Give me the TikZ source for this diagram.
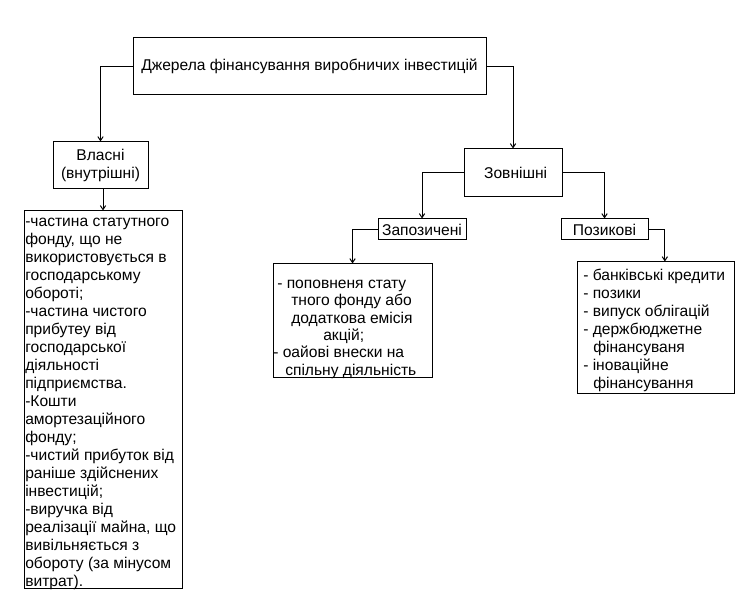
\documentclass[tikz,border=0pt]{standalone}
\usepackage{fontspec}
\setmainfont{Liberation Sans}
\usetikzlibrary{arrows.meta}
\begin{document}
\begin{tikzpicture}[x=0.75pt,y=-0.75pt,
  every node/.style={font=\fontsize{11.7pt}{13.5pt}\selectfont},
  box/.style={draw,line width=0.75pt,inner sep=0pt,align=center},
  txt/.style={inner sep=0pt,align=left,anchor=north west},
  arr/.style={line width=0.75pt,-{Straight Barb[length=3pt,width=4pt]}}]
\useasboundingbox[fill=white] (0,0) rectangle (747,616);
% boxes
\node[box,minimum width=353*0.75pt,minimum height=57*0.75pt] (top) at (309.5,66.5) {Джерела фінансування виробничих інвестицій};
\node[box,minimum width=95*0.75pt,minimum height=47*0.75pt] (vl) at (100.5,165.5) {Власні\\(внутрішні)};
\node[box,minimum width=98*0.75pt,minimum height=48*0.75pt] (zov) at (513,173) {\hspace*{4pt}Зовнішні};
\node[box,minimum width=88*0.75pt,minimum height=21*0.75pt] (zap) at (422,229.5) {Запозичені};
\node[box,minimum width=87*0.75pt,minimum height=21*0.75pt] (poz) at (604.5,229.5) {Позикові};
\node[box,minimum width=158*0.75pt,minimum height=378*0.75pt] (vllist) at (103,400) {};
\node[box,minimum width=159*0.75pt,minimum height=114*0.75pt] (zaplist) at (352.5,321) {};
\node[box,minimum width=157*0.75pt,minimum height=132*0.75pt] (pozlist) at (655.5,328) {};
% texts
\node[txt] (vltext) at (25,218) {-частина статутного\\фонду, що не\\використовується в\\господарському\\обороті;\\-частина чистого\\прибутеу від\\господарської\\діяльності\\підприємства.\\-Кошти\\амортезаційного\\фонду;\\-чистий прибуток від\\раніше здійснених\\інвестицій;\\-виручка від\\реалізації майна, що\\вивільняється з\\обороту (за мінусом\\витрат).};
\node[txt,font=\fontsize{11.7pt}{13pt}\selectfont] (zaptext) at (273,280) {\hspace*{3pt}- поповненя стату\\\hspace*{13.5pt}тного фонду або\\\hspace*{13.5pt}додаткова емісія\\\hspace*{37.5pt}акцій;\\- оайові внески на\\\hspace*{9pt}спільну діяльність};
\node[txt] (poztext) at (583,269) {- банківські кредити\\- позики\\- випуск облігацій\\- держбюджетне\\\hspace*{7.5pt}фінансуваня\\- іноваційне\\\hspace*{7.5pt}фінансування};
% connectors
\draw[arr] (top.west) -| (vl.north);
\draw[arr] (top.east) -| (zov.north);
\draw[arr] (vllist.north |- vl.south) -- (vllist.north);
\draw[arr] (zov.west) -| (zap.north);
\draw[arr] (zov.east) -| (poz.north);
\draw[arr] (zap.west) -| (zaplist.north);
\draw[arr] (poz.east) -| ([xshift=7pt]pozlist.north);
\end{tikzpicture}
\end{document}
